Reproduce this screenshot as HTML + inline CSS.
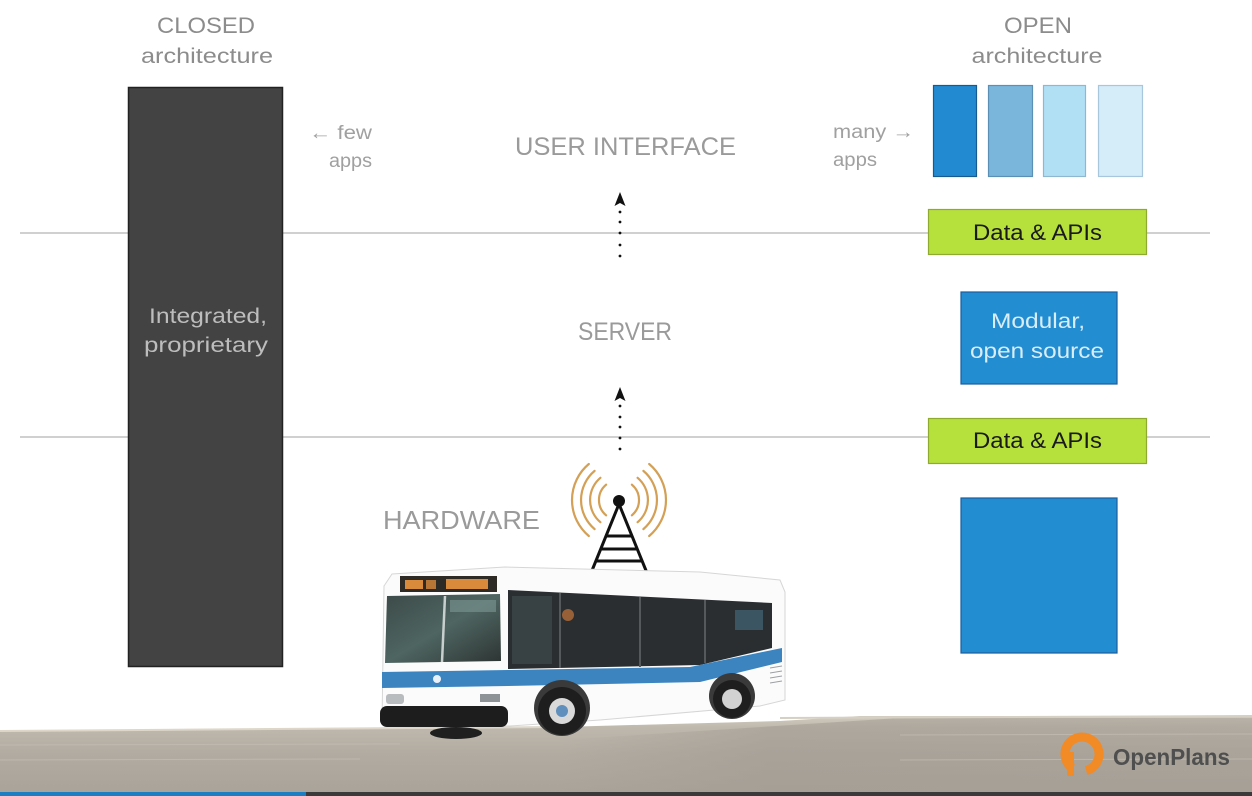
<!DOCTYPE html>
<html>
<head>
<meta charset="utf-8">
<style>
html,body{margin:0;padding:0;background:#fff;}
body{width:1252px;height:796px;overflow:hidden;}
svg{display:block;font-family:"Liberation Sans","DejaVu Sans",sans-serif;}
</style>
</head>
<body>
<svg width="1252" height="796" viewBox="0 0 1252 796" xmlns="http://www.w3.org/2000/svg">
  <defs>
    <linearGradient id="road" x1="0" y1="0" x2="0" y2="1">
      <stop offset="0" stop-color="#d2cbbf"/>
      <stop offset="0.15" stop-color="#bfb8ad"/>
      <stop offset="0.5" stop-color="#b1aba1"/>
      <stop offset="1" stop-color="#a9a399"/>
    </linearGradient>
    <linearGradient id="road2" x1="0" y1="0" x2="1" y2="0">
      <stop offset="0" stop-color="#a29c93" stop-opacity="0"/>
      <stop offset="0.3" stop-color="#a29c93" stop-opacity="0.6"/>
      <stop offset="1" stop-color="#a29c93" stop-opacity="0.5"/>
    </linearGradient>
    <linearGradient id="wind" x1="0" y1="0" x2="1" y2="1">
      <stop offset="0" stop-color="#3c4a48"/>
      <stop offset="0.5" stop-color="#4e6561"/>
      <stop offset="1" stop-color="#2d3433"/>
    </linearGradient>
  </defs>

  <!-- horizontal divider lines -->
  <line x1="20" y1="233" x2="1210" y2="233" stroke="#d0d0d0" stroke-width="2"/>
  <line x1="20" y1="437" x2="1210" y2="437" stroke="#d0d0d0" stroke-width="2"/>

  <!-- CLOSED side -->
  <text x="206" y="33" font-size="22" fill="#8c8c8c" text-anchor="middle" textLength="98" lengthAdjust="spacingAndGlyphs">CLOSED</text>
  <text x="207" y="63" font-size="21" fill="#8c8c8c" text-anchor="middle" textLength="132" lengthAdjust="spacingAndGlyphs">architecture</text>
  <rect x="128.5" y="87.5" width="154" height="579" fill="#424342" stroke="#222" stroke-width="1.5"/>
  <text x="208" y="323" font-size="21" fill="#bdbdbd" text-anchor="middle" textLength="118" lengthAdjust="spacingAndGlyphs">Integrated,</text>
  <text x="206" y="352" font-size="21" fill="#bdbdbd" text-anchor="middle" textLength="124" lengthAdjust="spacingAndGlyphs">proprietary</text>

  <text x="309" y="139" font-size="19" fill="#a0a0a0" textLength="63" lengthAdjust="spacingAndGlyphs">← few</text>
  <text x="329" y="167" font-size="19" fill="#a0a0a0" textLength="43" lengthAdjust="spacingAndGlyphs">apps</text>

  <!-- Middle labels -->
  <text x="515" y="155" font-size="25" fill="#9a9a9a" textLength="221" lengthAdjust="spacingAndGlyphs">USER INTERFACE</text>
  <text x="578" y="340" font-size="25" fill="#9a9a9a" textLength="94" lengthAdjust="spacingAndGlyphs">SERVER</text>
  <text x="383" y="529" font-size="26" fill="#9a9a9a" textLength="157" lengthAdjust="spacingAndGlyphs">HARDWARE</text>

  <!-- dotted arrows -->
  <polygon points="620,192 614.5,206 620,203 625.5,206" fill="#111"/>
  <g fill="#111">
    <circle cx="620" cy="212" r="1.4"/><circle cx="620" cy="222" r="1.4"/><circle cx="620" cy="233" r="1.4"/><circle cx="620" cy="245" r="1.4"/><circle cx="620" cy="256" r="1.4"/>
  </g>
  <polygon points="620,387 614.5,401 620,398 625.5,401" fill="#111"/>
  <g fill="#111">
    <circle cx="620" cy="406" r="1.4"/><circle cx="620" cy="417" r="1.4"/><circle cx="620" cy="427" r="1.4"/><circle cx="620" cy="438" r="1.4"/><circle cx="620" cy="449" r="1.4"/>
  </g>

  <!-- OPEN side -->
  <text x="1038" y="33" font-size="22" fill="#8c8c8c" text-anchor="middle" textLength="68" lengthAdjust="spacingAndGlyphs">OPEN</text>
  <text x="1037" y="63" font-size="21" fill="#8c8c8c" text-anchor="middle" textLength="131" lengthAdjust="spacingAndGlyphs">architecture</text>
  <text x="833" y="138" font-size="19" fill="#a0a0a0" textLength="81" lengthAdjust="spacingAndGlyphs">many →</text>
  <text x="833" y="166" font-size="19" fill="#a0a0a0" textLength="44" lengthAdjust="spacingAndGlyphs">apps</text>

  <rect x="933.5" y="85.5" width="43" height="91" fill="#228ad0" stroke="#175a92" stroke-width="1.2"/>
  <rect x="988.5" y="85.5" width="44" height="91" fill="#7ab6dc" stroke="#5b8fb6" stroke-width="1.2"/>
  <rect x="1043.5" y="85.5" width="42" height="91" fill="#b1e0f5" stroke="#8fb7cf" stroke-width="1.2"/>
  <rect x="1098.5" y="85.5" width="44" height="91" fill="#d5ecf9" stroke="#a9c7dc" stroke-width="1.2"/>

  <rect x="928.5" y="209.5" width="218" height="45" fill="#b6e03b" stroke="#8eab2f" stroke-width="1.2"/>
  <text x="973" y="240" font-size="22" fill="#1a1a1a" textLength="129" lengthAdjust="spacingAndGlyphs">Data &amp; APIs</text>

  <rect x="961" y="292" width="156" height="92" fill="#238dd2" stroke="#1a5e9e" stroke-width="1.2"/>
  <text x="1038" y="328" font-size="21" fill="#d8edf8" text-anchor="middle" textLength="94" lengthAdjust="spacingAndGlyphs">Modular,</text>
  <text x="1037" y="358" font-size="21" fill="#d8edf8" text-anchor="middle" textLength="134" lengthAdjust="spacingAndGlyphs">open source</text>

  <rect x="928.5" y="418.5" width="218" height="45" fill="#b6e03b" stroke="#8eab2f" stroke-width="1.2"/>
  <text x="973" y="448" font-size="22" fill="#1a1a1a" textLength="129" lengthAdjust="spacingAndGlyphs">Data &amp; APIs</text>

  <rect x="961" y="498" width="156" height="155" fill="#238dd2" stroke="#1a5e9e" stroke-width="1.2"/>

  <!-- Road -->
  <polygon points="0,731 560,727 780,721 860,716 1252,716 1252,792 0,792" fill="url(#road)"/>
  <polygon points="560,740 900,718 1252,718 1252,792 560,792" fill="url(#road2)"/>
  <line x1="0" y1="731" x2="560" y2="727" stroke="#ddd6c9" stroke-width="2"/>
  <line x1="780" y1="718" x2="1252" y2="716" stroke="#d6cfc3" stroke-width="2"/>
  <g stroke="#c4beb4" stroke-width="1" opacity="0.7">
    <line x1="0" y1="745" x2="400" y2="744"/>
    <line x1="0" y1="760" x2="360" y2="759"/>
    <line x1="900" y1="735" x2="1252" y2="734"/>
    <line x1="900" y1="760" x2="1252" y2="759"/>
  </g>

  <!-- Antenna -->
  <g fill="none" stroke="#d3a055" stroke-width="2.2" stroke-linecap="round">
    <path d="M588.8,464 A47,47 0 0 0 588.8,536"/>
    <path d="M594.6,470.9 A38,38 0 0 0 594.6,529.1"/>
    <path d="M600.4,477.8 A29,29 0 0 0 600.4,522.2"/>
    <path d="M606.1,484.7 A20,20 0 0 0 606.1,515.3"/>
    <path d="M649.2,464 A47,47 0 0 1 649.2,536"/>
    <path d="M643.4,470.9 A38,38 0 0 1 643.4,529.1"/>
    <path d="M637.6,477.8 A29,29 0 0 1 637.6,522.2"/>
    <path d="M631.9,484.7 A20,20 0 0 1 631.9,515.3"/>
  </g>
  <g stroke="#111" stroke-width="3" stroke-linecap="round">
    <line x1="619" y1="504" x2="591" y2="573"/>
    <line x1="619" y1="504" x2="647" y2="573"/>
    <line x1="607" y1="536" x2="631" y2="536"/>
    <line x1="602" y1="549" x2="636" y2="549"/>
    <line x1="597" y1="561" x2="641" y2="561"/>
  </g>
  <circle cx="619" cy="501" r="6" fill="#111"/>

  <!-- Bus -->
  <path d="M384,586 L392,574 L505,567 L700,572 L780,580 L785,592 L785,700 L760,706 L600,720 L510,726 L382,724 Z" fill="#fbfbfb" stroke="#d6d6d6" stroke-width="1"/>
  <!-- destination sign -->
  <rect x="400" y="576" width="97" height="16" fill="#2e2a25"/>
  <g fill="#d98a3a">
    <rect x="405" y="580" width="18" height="9"/>
    <rect x="426" y="580" width="10" height="9" opacity="0.8"/>
    <rect x="446" y="579" width="42" height="10"/>
  </g>
  <!-- windshield -->
  <polygon points="387,596 500,594 501,661 385,663" fill="url(#wind)"/>
  <line x1="445" y1="596" x2="442" y2="662" stroke="#c9cfcf" stroke-width="2.5"/>
  <rect x="450" y="600" width="46" height="12" fill="#7d9895" opacity="0.6"/>
  <!-- side windows -->
  <polygon points="508,590 772,603 772,648 700,665 508,669" fill="#2a2e31"/>
  <g stroke="#55595c" stroke-width="2">
    <line x1="560" y1="593" x2="560" y2="668"/>
    <line x1="640" y1="597" x2="640" y2="667"/>
    <line x1="705" y1="600" x2="705" y2="663"/>
  </g>
  <rect x="512" y="596" width="40" height="68" fill="#3e4a4d" opacity="0.7"/>
  <circle cx="568" cy="615" r="6" fill="#c8763a" opacity="0.7"/>
  <rect x="735" y="610" width="28" height="20" fill="#4a6f86" opacity="0.6"/>
  <!-- blue stripe -->
  <polygon points="382,672 508,670 508,686 382,688" fill="#3b84c0"/>
  <polygon points="508,670 690,667 782,648 782,662 700,682 508,686" fill="#3b84c0"/>
  <circle cx="437" cy="679" r="4" fill="#e9f1f8"/>
  <!-- front lower details -->
  <rect x="386" y="694" width="18" height="10" rx="3" fill="#b8bcbe"/>
  <rect x="480" y="694" width="20" height="8" fill="#8c9296"/>
  <rect x="380" y="706" width="128" height="21" rx="7" fill="#1d1d1d"/>
  <ellipse cx="456" cy="733" rx="26" ry="6" fill="#1f1f1f"/>
  <!-- rear vents -->
  <g stroke="#9ca0a3" stroke-width="1">
    <line x1="770" y1="668" x2="782" y2="666"/>
    <line x1="770" y1="673" x2="782" y2="671"/>
    <line x1="770" y1="678" x2="782" y2="676"/>
    <line x1="770" y1="683" x2="782" y2="681"/>
  </g>
  <!-- wheels -->
  <circle cx="562" cy="708" r="28" fill="#3a3a3a"/>
  <rect x="530" y="708" width="64" height="30" fill="none"/>
  <circle cx="562" cy="711" r="24" fill="#1e1e1e"/>
  <circle cx="562" cy="711" r="13" fill="#d9d9d9"/>
  <circle cx="562" cy="711" r="6" fill="#5f8fbd"/>
  <circle cx="732" cy="696" r="23" fill="#3a3a3a"/>
  <circle cx="732" cy="699" r="19" fill="#1e1e1e"/>
  <circle cx="732" cy="699" r="10" fill="#d2d2d2"/>

  <!-- OpenPlans logo -->
  <circle cx="1082" cy="754" r="17" fill="none" stroke="#f28a25" stroke-width="9" stroke-dasharray="92 15" transform="rotate(125 1082 754)"/>
  <rect x="1067" y="752" width="7" height="24" fill="#f28a25"/>
  <text x="1113" y="765" font-size="23" font-weight="bold" fill="#4f4f4f" textLength="117" lengthAdjust="spacingAndGlyphs">OpenPlans</text>

  <!-- bottom bar -->
  <rect x="0" y="792" width="1252" height="4" fill="#3a3a3a"/>
  <rect x="0" y="792" width="306" height="4" fill="#1b7ec2"/>
</svg>
</body>
</html>
